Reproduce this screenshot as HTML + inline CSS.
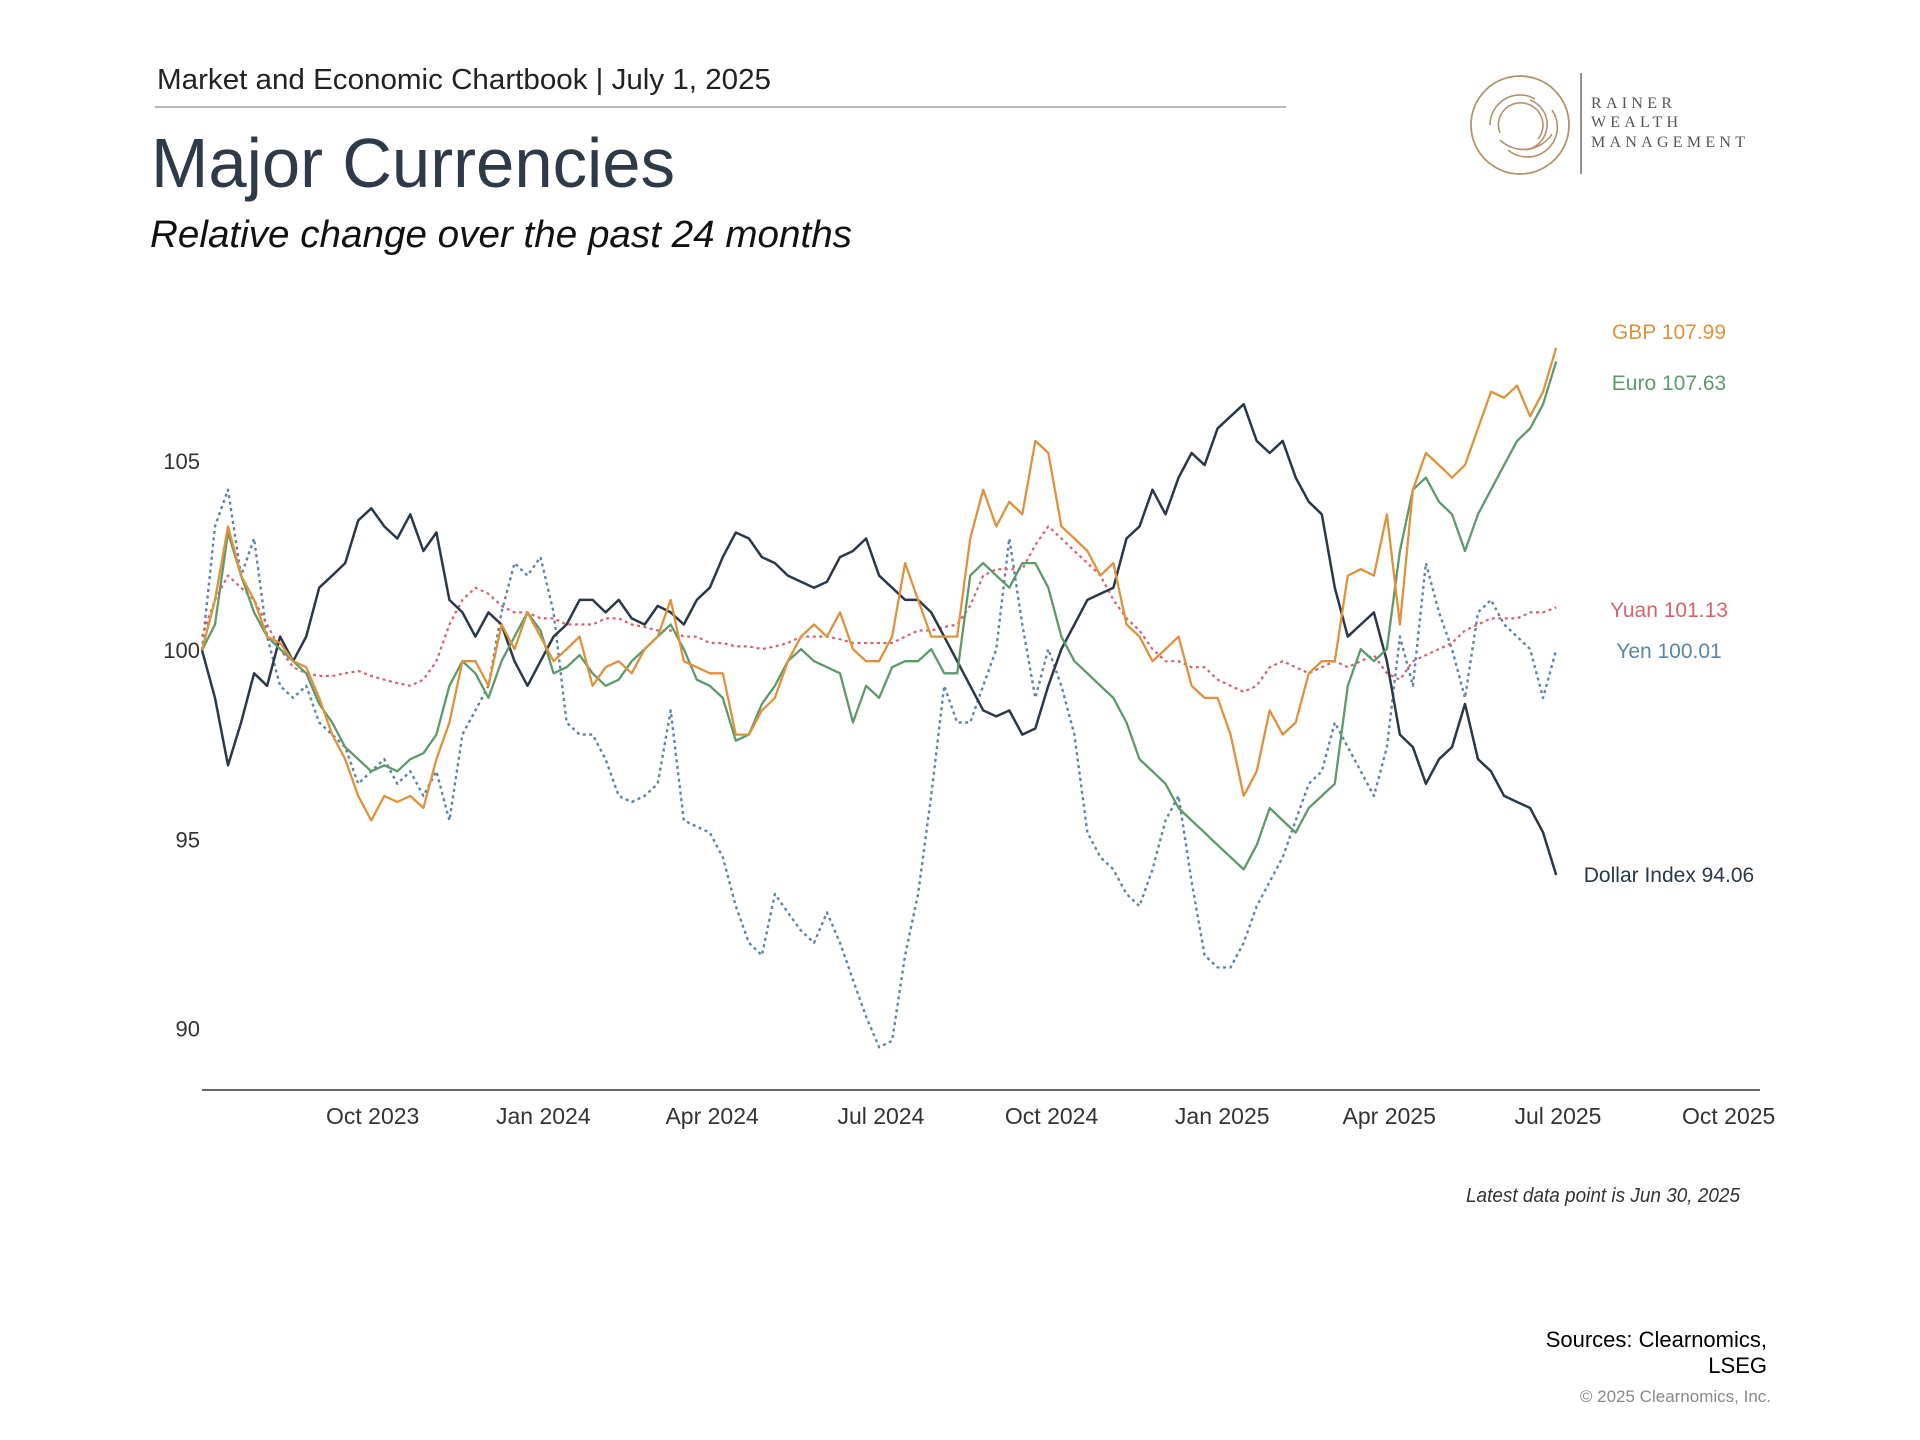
<!DOCTYPE html>
<html><head><meta charset="utf-8"><title>Major Currencies</title>
<style>html,body{margin:0;padding:0;background:#fff}svg{display:block}text{font-family:"Liberation Sans",sans-serif}text.serif{font-family:"Liberation Serif",serif}</style>
</head><body>
<svg id="chart" width="1920" height="1440" viewBox="0 0 1920 1440" xmlns="http://www.w3.org/2000/svg">
<rect width="1920" height="1440" fill="#fff"/>
<text x="157" y="89" font-size="29" fill="#222" textLength="614" lengthAdjust="spacingAndGlyphs">Market and Economic Chartbook | July 1, 2025</text>
<line x1="155" y1="107" x2="1286" y2="107" stroke="#8a8a8a" stroke-width="1.3"/>
<text x="151" y="187" font-size="70" fill="#2e3a48" textLength="524" lengthAdjust="spacingAndGlyphs">Major Currencies</text>
<text x="150" y="247" font-size="38" font-style="italic" fill="#111" textLength="702" lengthAdjust="spacingAndGlyphs">Relative change over the past 24 months</text>
<g>
<circle cx="1520" cy="125" r="49" fill="none" stroke="#b4926c" stroke-width="1.8"/>
<path d="M1520 125 m-30 0 a30 30 0 0 1 45 -26 M1520 125 m-20 8 a22 22 0 0 1 30 -28 a22 22 0 0 1 8 34 M1500 140 a34 34 0 0 0 52 -6 M1508 150 a30 30 0 0 0 44 -40 M1530 100 a26 26 0 0 1 -4 50" fill="none" stroke="#b4926c" stroke-width="1.6"/>
<line x1="1581" y1="73" x2="1581" y2="174" stroke="#555" stroke-width="1.3"/>
<text class="serif" x="1591" y="108" font-size="16" fill="#555" textLength="81" lengthAdjust="spacing">RAINER</text>
<text class="serif" x="1591" y="127" font-size="16" fill="#555" textLength="87" lengthAdjust="spacing">WEALTH</text>
<text class="serif" x="1591" y="147" font-size="16" fill="#555" textLength="154" lengthAdjust="spacing">MANAGEMENT</text>
</g>
<g id="yaxis"></g>
<g id="xaxis"></g>
<g id="series"></g>
<g id="labels"></g>
<text x="1740" y="1202" font-size="20" font-style="italic" fill="#333" text-anchor="end" textLength="274" lengthAdjust="spacingAndGlyphs">Latest data point is Jun 30, 2025</text>
<text x="1767" y="1347" font-size="22" fill="#000" text-anchor="end">Sources: Clearnomics,</text>
<text x="1767" y="1373" font-size="22" fill="#000" text-anchor="end">LSEG</text>
<text x="1771" y="1402" font-size="17" fill="#888" text-anchor="end">© 2025 Clearnomics, Inc.</text>
</svg>
<script>
const dollarValues=[100,98.74,96.96,98.09,99.39,99.06,100.36,99.71,100.36,101.65,101.97,102.30,103.43,103.75,103.27,102.95,103.59,102.62,103.11,101.33,101.00,100.36,101.00,100.68,99.71,99.06,99.71,100.36,100.68,101.33,101.33,101.0,101.33,100.84,100.68,101.17,101.0,100.68,101.33,101.65,102.46,103.11,102.95,102.46,102.30,101.97,101.81,101.65,101.81,102.46,102.62,102.95,101.97,101.65,101.33,101.33,101.0,100.36,99.71,99.06,98.41,98.25,98.41,97.77,97.93,99.06,100.03,100.68,101.33,101.49,101.65,102.95,103.27,104.24,103.59,104.56,105.21,104.89,105.86,106.18,106.50,105.53,105.21,105.53,104.56,103.92,103.59,101.65,100.36,100.68,101.0,99.71,97.77,97.44,96.47,97.12,97.44,98.58,97.12,96.80,96.15,95.99,95.83,95.18,94.06];
const gbpValues=[100,101.33,103.27,101.97,101.33,100.36,100.19,99.71,99.55,98.74,97.77,97.12,96.15,95.50,96.15,95.99,96.15,95.83,97.12,98.09,99.71,99.71,99.06,100.68,100.03,101.0,100.36,99.71,100.03,100.36,99.06,99.55,99.71,99.39,100.03,100.36,101.33,99.71,99.55,99.39,99.39,97.77,97.77,98.41,98.74,99.71,100.36,100.68,100.36,101.0,100.03,99.71,99.71,100.36,102.30,101.33,100.36,100.36,100.36,102.95,104.24,103.27,103.92,103.59,105.53,105.21,103.27,102.95,102.62,101.97,102.30,100.68,100.36,99.71,100.03,100.36,99.06,98.74,98.74,97.77,96.15,96.80,98.41,97.77,98.09,99.39,99.71,99.71,101.97,102.14,101.97,103.59,100.68,104.24,105.21,104.89,104.56,104.89,105.86,106.83,106.67,106.99,106.18,106.83,107.99];
const euroValues=[100,100.68,103.11,101.97,101.0,100.36,100.03,99.71,99.39,98.58,98.09,97.44,97.12,96.80,96.96,96.80,97.12,97.28,97.77,99.06,99.71,99.39,98.74,99.71,100.36,101.0,100.52,99.39,99.55,99.87,99.39,99.06,99.22,99.71,100.03,100.36,100.68,100.03,99.22,99.06,98.74,97.61,97.77,98.58,99.06,99.71,100.03,99.71,99.55,99.39,98.09,99.06,98.74,99.55,99.71,99.71,100.03,99.39,99.39,101.97,102.30,101.97,101.65,102.30,102.30,101.65,100.36,99.71,99.39,99.06,98.74,98.09,97.12,96.80,96.47,95.83,95.50,95.18,94.85,94.53,94.21,94.85,95.83,95.50,95.18,95.83,96.15,96.47,99.06,100.03,99.71,100.03,102.62,104.24,104.56,103.92,103.59,102.62,103.59,104.24,104.89,105.53,105.86,106.50,107.63];
const yuanValues=[100.36,101.33,101.97,101.65,101.33,100.68,100.03,99.55,99.39,99.32,99.32,99.39,99.45,99.32,99.22,99.13,99.06,99.22,99.71,100.68,101.33,101.65,101.49,101.17,101.0,101.0,100.84,100.84,100.68,100.68,100.68,100.84,100.84,100.68,100.61,100.52,100.52,100.36,100.36,100.19,100.19,100.10,100.10,100.03,100.10,100.19,100.36,100.36,100.36,100.29,100.19,100.19,100.19,100.19,100.36,100.52,100.52,100.61,100.68,101.17,101.97,102.14,102.14,102.14,102.78,103.27,102.95,102.62,102.30,101.97,101.33,100.84,100.52,100.03,99.71,99.71,99.55,99.55,99.22,99.06,98.90,99.06,99.55,99.71,99.55,99.39,99.55,99.71,99.55,99.71,99.87,99.39,99.22,99.71,99.87,100.03,100.19,100.52,100.68,100.84,100.84,100.84,101.0,101.0,101.13];
const yenValues=[100,103.27,104.24,101.97,102.95,100.36,99.06,98.74,99.06,98.09,97.77,97.44,96.47,96.80,97.12,96.47,96.80,96.15,96.80,95.50,97.77,98.41,99.06,101.0,102.30,101.97,102.46,101.0,98.09,97.77,97.77,97.12,96.15,95.99,96.15,96.47,98.41,95.50,95.34,95.18,94.53,93.24,92.27,91.94,93.56,93.07,92.59,92.27,93.07,92.27,91.29,90.32,89.51,89.68,91.94,93.56,96.15,99.06,98.09,98.09,99.06,100.03,102.95,100.68,98.74,100.03,99.06,97.77,95.18,94.53,94.21,93.56,93.24,94.21,95.50,96.15,93.88,91.94,91.62,91.62,92.27,93.24,93.88,94.53,95.50,96.47,96.80,98.09,97.44,96.80,96.15,97.44,100.36,99.06,102.30,101.0,100.03,98.74,101.0,101.33,100.68,100.36,100.03,98.74,100.01];
const yTicks=[105,100,95,90];
const xTickLabels=["Oct 2023","Jan 2024","Apr 2024","Jul 2024","Oct 2024","Jan 2025","Apr 2025","Jul 2025","Oct 2025"];
const xTickDays=[92,184,275,366,458,550,640,731,823];
const seriesNames=["Yen","Yuan","Dollar Index","Euro","GBP"];
const seriesLabels=["Yen 100.01","Yuan 101.13","Dollar Index 94.06","Euro 107.63","GBP 107.99"];

const NS="http://www.w3.org/2000/svg";
const totalDays=730;
function xScale(day){return 202+day*1.855;}
function yScale(v){return 650.2-(v-100)*37.85;}
function mk(tag,attrs,parent){const e=document.createElementNS(NS,tag);for(const k in attrs)e.setAttribute(k,attrs[k]);parent.appendChild(e);return e;}

const ya=document.getElementById('yaxis');
yTicks.forEach(t=>{
  const e=mk('text',{x:200,y:yScale(t)+8,'font-size':22,fill:'#333','text-anchor':'end'},ya);
  
  
  e.textContent=t;
});
const xa=document.getElementById('xaxis');
const axl=mk('line',{x1:202,y1:1090,x2:1760,y2:1090,stroke:'#333','stroke-width':1.6},xa);


xTickLabels.forEach((l,i)=>{
  const e=mk('text',{x:xScale(xTickDays[i]),y:1124,'font-size':23,fill:'#333','text-anchor':'middle'},xa);
  
  
  e.textContent=l;
});

const sg=document.getElementById('series');
const specs=[
 {vals:yenValues,color:'#5b84aa',dash:'3,3.5',w:2.4,name:'yen-line',ly:650},
 {vals:yuanValues,color:'#d7626c',dash:'3,3.5',w:2.2,name:'yuan-line',ly:609},
 {vals:dollarValues,color:'#2b3848',dash:null,w:2.5,name:'dollar-index-line',ly:874},
 {vals:euroValues,color:'#5c9a6a',dash:null,w:2.3,name:'euro-line',ly:382},
 {vals:gbpValues,color:'#e0913c',dash:null,w:2.3,name:'gbp-line',ly:331}
];
const lg=document.getElementById('labels');
specs.forEach((s,si)=>{
  const n=s.vals.length;
  let d='';
  s.vals.forEach((v,i)=>{const day=i*totalDays/(n-1);d+=(i?'L':'M')+xScale(day).toFixed(1)+' '+yScale(v).toFixed(1);});
  const p=mk('path',{d:d,fill:'none',stroke:s.color,'stroke-width':s.w,'stroke-linejoin':'round'},sg);
  if(s.dash)p.setAttribute('stroke-dasharray',s.dash);
  
  
  const t=mk('text',{x:1669,y:s.ly+8,'font-size':21,fill:s.color,'text-anchor':'middle'},lg);
  
  
  t.textContent=seriesLabels[si];
});
</script>
</body></html>
